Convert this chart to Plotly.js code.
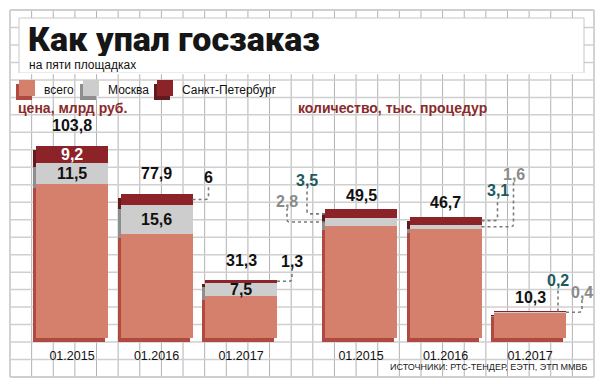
<!DOCTYPE html>
<html><head><meta charset="utf-8">
<script src="https://cdn.plot.ly/plotly-3.0.1.min.js"></script>
<style>html,body{margin:0;padding:0;background:#fff}</style>
</head><body><div id="chart" style="width:602px;height:385px"></div>
<script>
// ---------------- data ----------------
const periods = ['01.2015', '01.2016', '01.2017'];
const seriesNames = ['всего', 'Москва', 'Санкт-Петербург'];
const priceTotal = [103.8, 77.9, 31.3];
const priceMoscow = [11.5, 15.6, 7.5];
const priceSpb = [9.2, 6, 1.3];
const countTotal = [49.5, 46.7, 10.3];
const countMoscow = [2.8, 1.6, 0.4];
const countSpb = [3.5, 3.1, 0.2];
const chartTitle = 'Как упал госзаказ';
const chartSubtitle = 'на пяти площадках';
const priceLabel = 'цена, млрд руб.';
const countLabel = 'количество, тыс. процедур';
const sourceText = 'ИСТОЧНИКИ: РТС-ТЕНДЕР, ЕЭТП, ЭТП ММВБ';

// ---------------- style ----------------
const W = 602, H = 385;
const px = x => x / W, py = y => 1 - y / H;
const frontColors = ['#d4806c', '#cdcdcd', '#8c2328'];
const sideColors = ['#b04a40', '#8e8e8e', '#621a1d'];
const STEP = 84.5, BARW = 72 / 84.5, SHX = 3, SHY = 4;
const Y_BOT = 338, Y_TOP = 100, Y_DOM_BOT = 346;
const numFont = 'Liberation Sans, Arial, sans-serif';
const leaderColor = '#7a7a7a';
const labelColors = {price: ['#111', '#111', '#111'], count: ['#111', '#8a8a8a', '#1d5a5e']};
// outside labels: key "bar-segment" -> [edge side (+1 right / -1 left), dx px from that edge, dy px from segment middle]
const leaderOffsets = {
  price: {'1-2': [1, 16, -22], '2-2': [1, 15, -20]},
  count: {'0-1': [-1, -38, -21], '0-2': [-1, -18, -33], '1-1': [1, 32, -52], '1-2': [1, 16, -30], '2-1': [1, 16, -20], '2-2': [1, -8, -31]}
};

const panels = [
  {key: 'price', xa: 'x', ya: 'y', k: 1.85, cx0: 72, xr: [-0.8, 2.8], total: priceTotal, msk: priceMoscow, spb: priceSpb, totalShift: 20},
  {key: 'count', xa: 'x2', ya: 'y2', k: 2.6, cx0: 361, xr: [-1, 2.8], total: countTotal, msk: countMoscow, spb: countSpb, totalShift: 14}
];

const fmt = v => String(v).replace('.', ',');
const idx = periods.map((_, i) => i);
const traces = [], annotations = [], shapes = [];
const layout = {
  width: W, height: H, margin: {l: 0, r: 0, t: 0, b: 0},
  paper_bgcolor: '#ffffff', plot_bgcolor: 'rgba(0,0,0,0)',
  barmode: 'overlay', showlegend: false, bargap: 0
};

panels.forEach((p, pi) => {
  const axNum = pi === 0 ? '' : '2';
  layout['xaxis' + axNum] = {
    domain: [px(p.cx0 + p.xr[0] * STEP), px(p.cx0 + p.xr[1] * STEP)], range: p.xr,
    tickvals: idx, ticktext: periods, showgrid: false, zeroline: false, showline: false,
    ticks: '', tickfont: {family: numFont, size: 12.5, color: '#111'},
    anchor: 'y' + axNum, fixedrange: true
  };
  layout['yaxis' + axNum] = {
    domain: [py(Y_DOM_BOT), py(Y_TOP)],
    range: [-(Y_DOM_BOT - Y_BOT) / p.k, (Y_BOT - Y_TOP) / p.k],
    visible: false, fixedrange: true, anchor: 'x' + axNum
  };
  const segs = [
    p.total.map((t, i) => t - p.msk[i] - p.spb[i]),
    p.msk.slice(), p.spb.slice()
  ];
  const bases = [
    idx.map(() => 0),
    p.total.map((t, i) => t - p.msk[i] - p.spb[i]),
    p.total.map((t, i) => t - p.spb[i])
  ];
  const dy = SHY / p.k;
  // 3D side (shadow) bars
  segs.forEach((s, j) => {
    traces.push({
      type: 'bar', x: idx, y: s, base: bases[j].map(b => b - dy),
      width: BARW, offset: -BARW / 2 - SHX / STEP,
      marker: {color: sideColors[j], line: {width: 0}},
      xaxis: p.xa, yaxis: p.ya, hoverinfo: 'skip', name: seriesNames[j]
    });
  });
  // front bars
  segs.forEach((s, j) => {
    traces.push({
      type: 'bar', x: idx, y: s, base: bases[j],
      width: BARW, offset: -BARW / 2,
      marker: {color: frontColors[j], line: {width: 0}},
      xaxis: p.xa, yaxis: p.ya, name: seriesNames[j]
    });
  });
  // totals
  idx.forEach(i => {
    annotations.push({
      xref: p.xa, yref: p.ya, x: i, y: p.total[i], yshift: p.totalShift,
      text: '<b>' + fmt(p.total[i]) + '</b>', showarrow: false,
      font: {family: numFont, size: 16, color: '#111'}, yanchor: 'middle'
    });
  });
  // segment labels
  idx.forEach(i => {
    [1, 2].forEach(j => {
      const val = segs[j][i];
      const mid = bases[j][i] + val / 2;
      const off = leaderOffsets[p.key][i + '-' + j];
      if (!off) {
        annotations.push({
          xref: p.xa, yref: p.ya, x: i, y: mid, text: '<b>' + fmt(val) + '</b>', showarrow: false,
          font: {family: numFont, size: 16, color: j === 2 ? '#ffffff' : '#111'}, yanchor: 'middle'
        });
      } else {
        const side = off[0];
        const edge = i + side * BARW / 2;
        const lx = edge + off[1] / STEP;
        const ly = mid - off[2] / p.k;
        const lyBottom = ly - 8 / p.k;
        const rx = 3 / STEP * side, ry = 3 / p.k;
        annotations.push({
          xref: p.xa, yref: p.ya, x: lx, y: ly, text: '<b>' + fmt(val) + '</b>', showarrow: false,
          font: {family: numFont, size: 16, color: labelColors[p.key][j]}, yanchor: 'middle'
        });
        let path;
        if (side * (lx - edge) * STEP > 4) {
          path = `M${edge},${mid} L${lx - rx},${mid} Q${lx},${mid} ${lx},${mid + ry} L${lx},${lyBottom}`;
        } else {
          path = `M${lx},${mid} L${lx},${lyBottom}`;
        }
        shapes.push({type: 'path', xref: p.xa, yref: p.ya, path: path,
          line: {color: leaderColor, width: 1.6, dash: 'dot'}});
      }
    });
  });
});

// ---------------- background grid ----------------
const G_X0 = 10, G_X1 = 594, G_Y0 = 10, G_Y1 = 377, NCOL = 27, NROW = 21;
const bgShapes = [];
for (let c = 0; c <= NCOL; c++) {
  const x = G_X0 + (G_X1 - G_X0) * c / NCOL;
  bgShapes.push({type: 'line', xref: 'paper', yref: 'paper', layer: 'below',
    x0: px(x), x1: px(x), y0: py(G_Y0), y1: py(G_Y1),
    line: {color: (c === 0 || c === NCOL) ? '#d2d2d2' : '#b2b2b2', width: (c === 0 || c === NCOL) ? 2 : 1}});
}
for (let r = 0; r <= NROW; r++) {
  const y = G_Y0 + (G_Y1 - G_Y0) * r / NROW;
  bgShapes.push({type: 'line', xref: 'paper', yref: 'paper', layer: 'below',
    x0: px(G_X0), x1: px(G_X1), y0: py(y), y1: py(y),
    line: {color: '#cfcfcf', width: (r === 0 || r === NROW) ? 2 : 1.5}});
}
// title panel
bgShapes.push({type: 'rect', xref: 'paper', yref: 'paper', layer: 'below',
  x0: px(19), x1: px(584), y0: py(73), y1: py(18), fillcolor: '#ffffff', line: {color: '#c8c8c8', width: 1}});
bgShapes.push({type: 'line', xref: 'paper', yref: 'paper', layer: 'below',
  x0: px(19), x1: px(584), y0: py(73.5), y1: py(73.5), line: {color: '#ffffff', width: 1.5}});

// ---------------- legend (3D cubes) ----------------
const legendX = [19, 83, 157];
const legendTextX = [42, 106, 180];
seriesNames.forEach((n, j) => {
  const x0 = legendX[j];
  shapes.push({type: 'rect', xref: 'paper', yref: 'paper', x0: px(x0 - SHX), x1: px(x0 + 16 - SHX),
    y0: py(96 + SHY), y1: py(80 + SHY), fillcolor: sideColors[j], line: {width: 0}});
  shapes.push({type: 'rect', xref: 'paper', yref: 'paper', x0: px(x0), x1: px(x0 + 16),
    y0: py(96), y1: py(80), fillcolor: frontColors[j], line: {width: 0}});
  annotations.push({xref: 'paper', yref: 'paper', x: px(legendTextX[j]), y: py(89.5), xanchor: 'left', yanchor: 'middle',
    text: n, showarrow: false, font: {family: numFont, size: 12, color: '#111'}});
});

// ---------------- titles & notes ----------------
annotations.push({xref: 'paper', yref: 'paper', x: px(26), y: py(39.5), xanchor: 'left', yanchor: 'middle',
  height: 34, valign: 'middle',
  text: chartTitle, showarrow: false, font: {family: 'Roboto, sans-serif', size: 34, weight: 900, color: '#161616'}});
annotations.push({xref: 'paper', yref: 'paper', x: px(27), y: py(64.5), xanchor: 'left', yanchor: 'middle',
  text: chartSubtitle, showarrow: false, font: {family: numFont, size: 12, color: '#111'}});
annotations.push({xref: 'paper', yref: 'paper', x: px(16), y: py(108), xanchor: 'left', yanchor: 'middle',
  text: '<b>' + priceLabel + '</b>', showarrow: false, font: {family: numFont, size: 14, color: '#8a2a2a'}});
annotations.push({xref: 'paper', yref: 'paper', x: px(296), y: py(108), xanchor: 'left', yanchor: 'middle',
  text: '<b>' + countLabel + '</b>', showarrow: false, font: {family: numFont, size: 14, color: '#8a2a2a'}});
annotations.push({xref: 'paper', yref: 'paper', x: px(590), y: py(367), xanchor: 'right', yanchor: 'middle',
  text: sourceText, showarrow: false, font: {family: numFont, size: 9, color: '#222'}});

layout.shapes = bgShapes.concat(shapes);
layout.annotations = annotations;

Plotly.newPlot('chart', traces, layout, {staticPlot: true, displayModeBar: false});
</script>
</body></html>
